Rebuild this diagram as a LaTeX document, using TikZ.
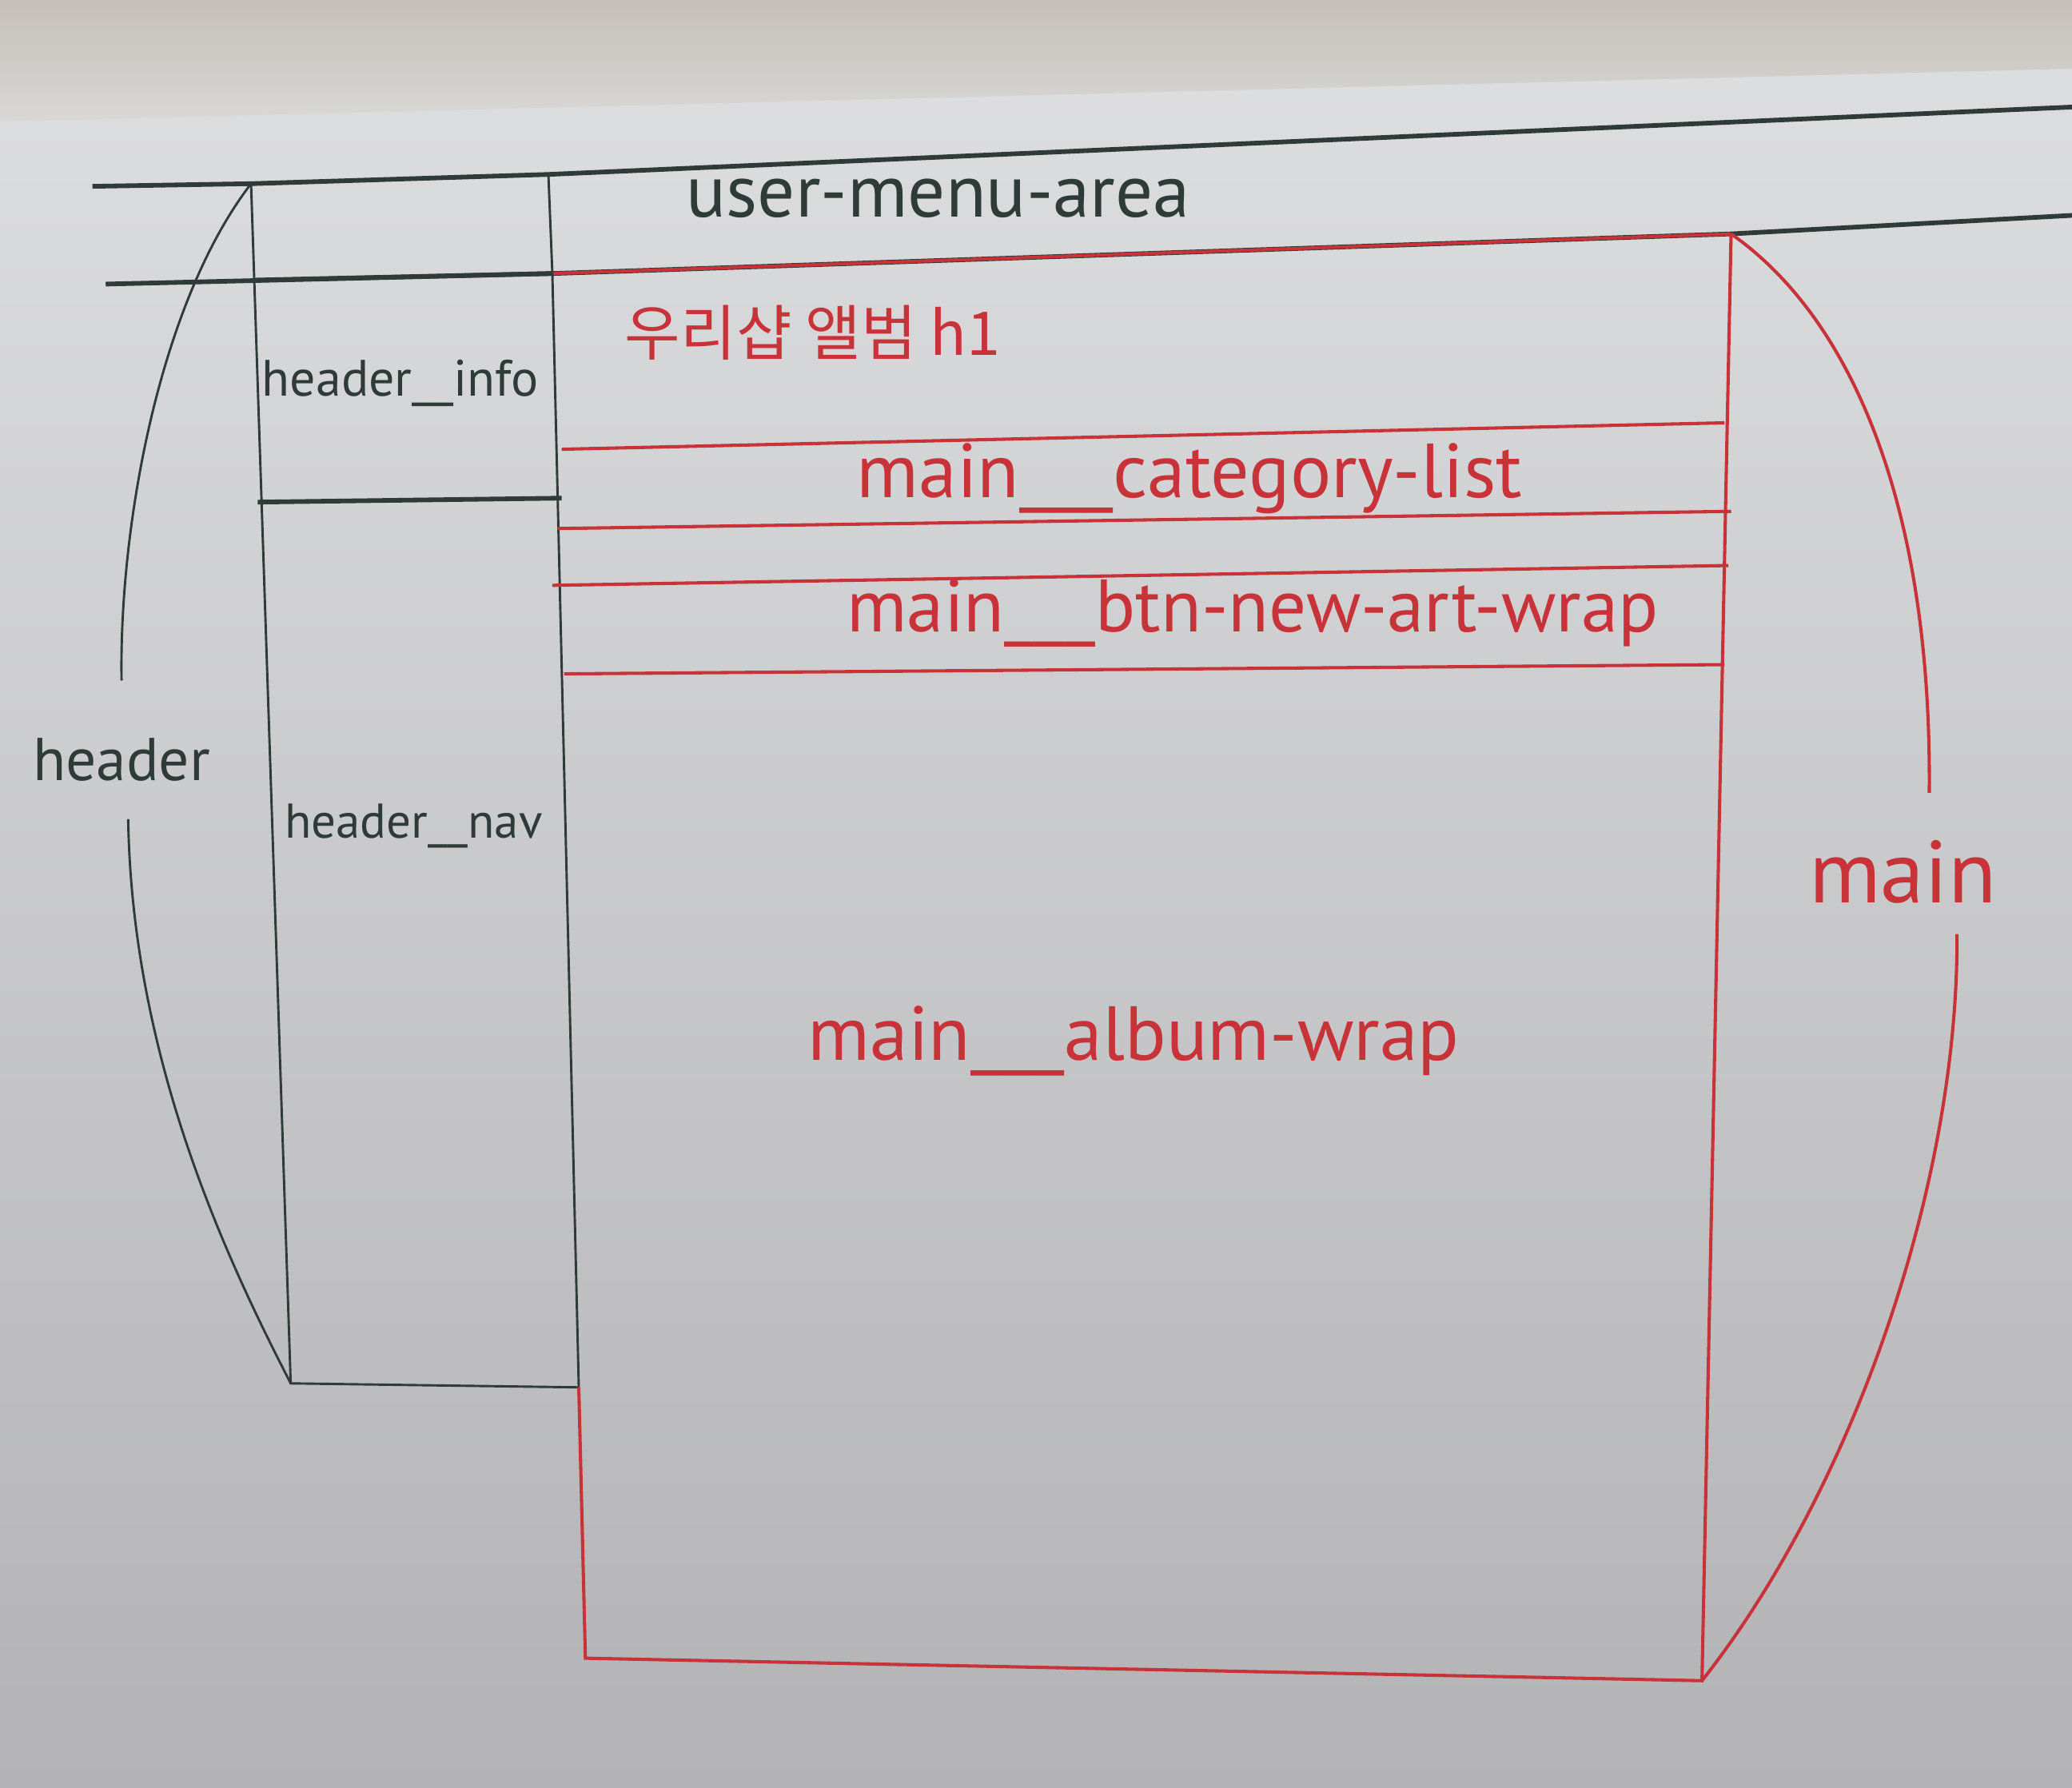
\documentclass[tikz,border=0pt]{standalone}
\usepackage{fontspec}
\setmainfont{PT Sans}
\newfontfamily\krfont{Noto Sans CJK KR}
\definecolor{pen}{HTML}{2E3B37}
\definecolor{redpen}{HTML}{C8333A}
\definecolor{paperA}{HTML}{DEDFE0}
\definecolor{paperB}{HTML}{B3B3B6}
\definecolor{edgeA}{HTML}{C4BFB8}
\definecolor{edgeB}{HTML}{D9D8D6}
\begin{document}
\begin{tikzpicture}[x=0.01cm,y=-0.01cm,
    ink/.style={pen,line width=0.5pt},
    thick ink/.style={pen,line width=1pt},
    red ink/.style={redpen,line width=0.7pt},
    dark label/.style={inner sep=0pt,text=pen},
    red label/.style={inner sep=0pt,text=redpen}]
  \useasboundingbox (0,0) rectangle (1568,1353);
  \shade[top color=paperA,bottom color=paperB] (0,0) rectangle (1568,1353);
  \shade[top color=edgeA,bottom color=edgeB] (0,0) -- (1568,0) -- (1568,52) -- (0,92) -- cycle;

  % header column
  \coordinate (hTL) at (190,139);
  \coordinate (hTR) at (415,132);
  \coordinate (hBL) at (220,1047);
  \coordinate (hBR) at (438,1050);
  % main box
  \coordinate (mTL) at (418,207);
  \coordinate (mTR) at (1310,177);
  \coordinate (mBR) at (1288,1272);
  \coordinate (mBL) at (443,1255);

  \draw[thick ink] (70,141) -- (hTL) -- (hTR) -- (1568,81);
  \draw[thick ink] (80,215) -- (mTL) -- (mTR) -- (1568,163);
  \draw[red ink] (mTL) -- (mTR);
  \draw[ink] (hTL) -- (hBL) -- (hBR);
  \draw[ink] (hTR) -- (mTL) -- (hBR);
  \draw[thick ink] (192,212) -- (mTL);
  \draw[thick ink] (195,380) -- (425,377);
  \draw[red ink] (hBR) -- (mBL) -- (mBR) -- (mTR);

  \foreach \xa/\ya/\xb/\yb in {425/340/1305/320, 422/400/1310/387, 418/443/1308/428, 427/510/1305/503}
    \draw[red ink] (\xa,\ya) -- (\xb,\yb);

  % braces
  \draw[ink] (hTL) .. controls (120,230) and (90,400) .. (92,515);
  \draw[ink] (97,620) .. controls (100,800) and (170,950) .. (hBL);
  \draw[red ink] (mTR) .. controls (1400,240) and (1462,380) .. (1460,600);
  \draw[red ink] (1481,707) .. controls (1482,900) and (1400,1130) .. (mBR);

  \node[dark label,font=\fontsize{16}{16}\selectfont] (usermenu) at (710,150) {user-menu-area};
  \node[red label,font=\krfont\fontsize{13}{13}\selectfont] (title) at (615,252) {우리샵 앨범 h1};
  \node[dark label,font=\fontsize{11}{11}\selectfont] (hinfo) at (303,290) {header\_\_info};
  \node[dark label,font=\fontsize{10.5}{10.5}\selectfont] (hnav) at (313,625) {header\_\_nav};
  \node[dark label,font=\fontsize{13}{13}\selectfont] (header) at (92,575) {header};
  \node[red label,font=\fontsize{16.5}{16.5}\selectfont] (catlist) at (900,362) {main\_\_\_category-list};
  \node[red label,font=\fontsize{16}{16}\selectfont] (btnwrap) at (948,464) {main\_\_\_btn-new-art-wrap};
  \node[red label,font=\fontsize{16.5}{16.5}\selectfont] (albumwrap) at (858,788) {main\_\_\_album-wrap};
  \node[red label,font=\fontsize{19}{19}\selectfont] (mainlbl) at (1440,660) {main};
\end{tikzpicture}
\end{document}
